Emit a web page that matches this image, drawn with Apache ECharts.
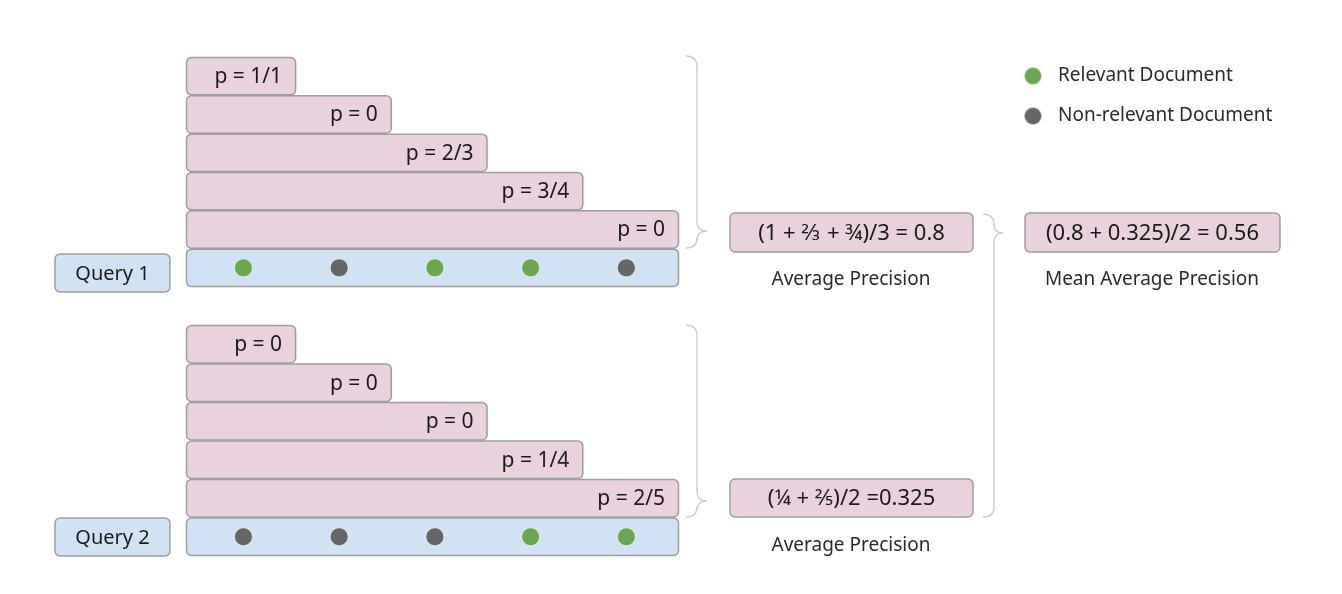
<!DOCTYPE html>
<html>

<head>
    <meta charset="utf-8">
    <title></title>
    <script src="https://cdn.jsdelivr.net/npm/echarts@6/dist/echarts.min.js"></script>
</head>
<style>
    body {
        margin: 0;
        background: #fff;
    }
</style>

<body>
    <div id="chart_box" style="width: 1342px;height:594px;"></div>

    <script>
        // 数据
        var ranks = [1, 2, 3, 4, 5];
        var q1Relevant = [1, 0, 1, 1, 0];
        var q2Relevant = [0, 0, 0, 1, 1];
        var q1Precision = ['p = 1/1', 'p = 0', 'p = 2/3', 'p = 3/4', 'p = 0'];
        var q2Precision = ['p = 0', 'p = 0', 'p = 0', 'p = 1/4', 'p = 2/5'];
        var queryNames = ['Query 1', 'Query 2'];
        var apFormulas = ['(1 + ⅔ + ¾)/3 = 0.8', '(¼ + ⅖)/2 =0.325'];
        var mapFormula = '(0.8 + 0.325)/2 = 0.56';
        var legendNames = ['Relevant Document', 'Non-relevant Document'];

        var PINK = '#e9d1dd';
        var BLUE = '#d0e2f3';
        var BORDER = '#9e9e9e';
        var GREEN = '#6aa84f';
        var GREY = '#666666';
        var FONT = '"Noto Sans", "DejaVu Sans", sans-serif';
        var X_MIN = -0.15;
        var DOT_SHIFT = 0.55; // 圆点在每格中的位置

        var myChart1 = echarts.init(document.getElementById('chart_box'));

        // 精度条
        function barRender(labels) {
            return function (params, api) {
                var end = api.value(0), row = api.value(1);
                var p0 = api.coord([X_MIN, row]);
                var p1 = api.coord([end, row + 1]);
                return {
                    type: 'group',
                    children: [{
                        type: 'rect',
                        shape: { x: p0[0] + 0.5, y: p0[1] + 0.5, width: p1[0] - p0[0] - 1, height: p1[1] - p0[1] - 1, r: 5 },
                        style: { fill: PINK, stroke: BORDER, lineWidth: 1.5 }
                    }, {
                        type: 'text',
                        style: {
                            text: labels[params.dataIndex], x: p1[0] - 14, y: (p0[1] + p1[1]) / 2 + 1,
                            align: 'right', verticalAlign: 'middle', fontSize: 21, fontFamily: FONT, fill: '#1a1a1a'
                        }
                    }]
                };
            };
        }

        function docRowRender(params, api) {
            var p0 = api.coord([X_MIN, api.value(1)]);
            var p1 = api.coord([api.value(0), api.value(1) + 1]);
            return {
                type: 'rect',
                shape: { x: p0[0] + 0.5, y: p0[1] + 0.5, width: p1[0] - p0[0] - 1, height: p1[1] - p0[1] - 1, r: 5 },
                style: { fill: BLUE, stroke: BORDER, lineWidth: 1.5 }
            };
        }

        function dots(rel, flag) {
            var out = [];
            ranks.forEach(function (r, i) {
                if (rel[i] == flag) out.push([r - DOT_SHIFT, ranks.length + 0.5]);
            });
            return out;
        }

        var series = [];
        [[q1Precision, q1Relevant], [q2Precision, q2Relevant]].forEach(function (q, g) {
            series.push({
                type: 'custom', xAxisIndex: g, yAxisIndex: g,
                renderItem: barRender(q[0]),
                data: ranks.map(function (r, i) { return [r, i]; })
            });
            series.push({
                type: 'custom', xAxisIndex: g, yAxisIndex: g,
                renderItem: docRowRender,
                data: [[ranks[ranks.length - 1], ranks.length]]
            });
            series.push({
                name: legendNames[0], type: 'scatter', xAxisIndex: g, yAxisIndex: g, z: 5,
                symbolSize: 18, data: dots(q[1], 1),
                itemStyle: { color: GREEN, opacity: 1, borderColor: 'rgba(255,255,255,0.6)', borderWidth: 1 }
            });
            series.push({
                name: legendNames[1], type: 'scatter', xAxisIndex: g, yAxisIndex: g, z: 5,
                symbolSize: 18, data: dots(q[1], 0),
                itemStyle: { color: GREY, opacity: 1, borderColor: 'rgba(255,255,255,0.6)', borderWidth: 1 }
            });
        });

        function box(x, y, w, h, fill, text, size) {
            return [{
                type: 'rect', shape: { x: x, y: y, width: w, height: h, r: 5 },
                style: { fill: fill, stroke: BORDER, lineWidth: 1.5 }
            }, {
                type: 'text', z: 10,
                style: {
                    text: text, x: x + w / 2, y: y + h / 2 + 1, align: 'center', verticalAlign: 'middle',
                    fontSize: size, fontFamily: FONT, fill: '#1a1a1a'
                }
            }];
        }

        function caption(x, y, text) {
            return {
                type: 'text',
                style: {
                    text: text, x: x, y: y, align: 'center', verticalAlign: 'middle',
                    fontSize: 19, fontFamily: FONT, fill: '#2a2a2a'
                }
            };
        }

        // 花括号: x0 端点, xv 竖线, xt 尖端
        function brace(x0, xv, xt, yTop, yTip, yBot) {
            var st = { stroke: '#cfcfcf', lineWidth: 1.5, fill: null };
            function curve(a, b, c, d, e, f) {
                return { type: 'bezierCurve', shape: { x1: a, y1: b, cpx1: c, cpy1: d, x2: e, y2: f }, style: st };
            }
            function seg(a, b, c, d) {
                return { type: 'line', shape: { x1: a, y1: b, x2: c, y2: d }, style: st };
            }
            return [
                curve(x0, yTop, xv, yTop, xv, yTop + 11),
                seg(xv, yTop + 11, xv, yTip - 9),
                curve(xv, yTip - 9, xv, yTip, xt, yTip),
                curve(xt, yTip, xv, yTip, xv, yTip + 9),
                seg(xv, yTip + 9, xv, yBot - 10),
                curve(xv, yBot - 10, xv, yBot, x0, yBot)
            ];
        }

        var graphics = []
            .concat(box(55, 254, 115, 38, BLUE, queryNames[0], 20))
            .concat(box(55, 518, 115, 38, BLUE, queryNames[1], 20))
            .concat(box(730, 213, 243, 39, PINK, apFormulas[0], 22))
            .concat(box(730, 479, 243, 38, PINK, apFormulas[1], 22))
            .concat(box(1025, 213, 255, 39, PINK, mapFormula, 22))
            .concat([
                caption(851, 280, 'Average Precision'),
                caption(851, 546, 'Average Precision'),
                caption(1152, 280, 'Mean Average Precision')
            ])
            .concat(brace(686, 697, 707, 56, 231, 248))
            .concat(brace(686, 697, 707, 325, 501, 517))
            .concat(brace(983, 994, 1003, 214, 233, 517));

        var optionDiagram = {
            animation: false,
            backgroundColor: '#fff',
            legend: {
                data: legendNames,
                orient: 'vertical',
                left: 1023,
                top: 66,
                padding: 0,
                icon: 'circle',
                itemWidth: 18,
                itemHeight: 18,
                itemGap: 20,
                textStyle: { fontSize: 19, fontFamily: FONT, color: '#2a2a2a', padding: [2, 0, 0, 11] }
            },
            grid: [
                { left: 186, top: 57, width: 493, height: 230 },
                { left: 186, top: 325, width: 493, height: 231 }
            ],
            xAxis: [
                { type: 'value', gridIndex: 0, min: X_MIN, max: 5, show: false },
                { type: 'value', gridIndex: 1, min: X_MIN, max: 5, show: false }
            ],
            yAxis: [
                { type: 'value', gridIndex: 0, min: 0, max: 6, inverse: true, show: false },
                { type: 'value', gridIndex: 1, min: 0, max: 6, inverse: true, show: false }
            ],
            graphic: graphics,
            series: series
        };
        myChart1.setOption(optionDiagram);
    </script>
</body>

</html>
